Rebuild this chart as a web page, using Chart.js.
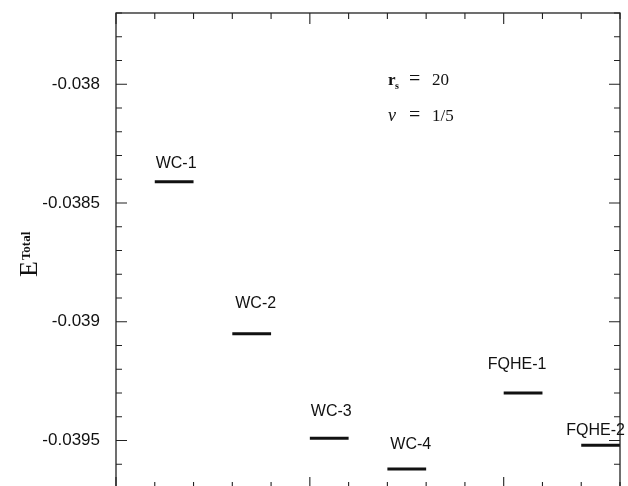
<!DOCTYPE html>
<html>
<head>
<meta charset="utf-8">
<script src="https://cdn.jsdelivr.net/npm/chart.js@4/dist/chart.umd.min.js"></script>
<style>
  html, body { margin: 0; padding: 0; background: #fff; overflow: hidden; }
  #wrap { position: relative; width: 628px; height: 490px; }
</style>
</head>
<body>
<div id="wrap"><canvas id="chart"></canvas></div>
<script>
// energy levels
const states = ['WC-1', 'WC-2', 'WC-3', 'WC-4', 'FQHE-1', 'FQHE-2'];
const statePos = [0.3, 0.7, 1.1, 1.5, 2.1, 2.5];
const energies = [-0.03841, -0.03905, -0.03949, -0.03962, -0.03930, -0.03952];
const yTicks = [-0.038, -0.0385, -0.039, -0.0395];
const yTickLabels = ['-0.038', '-0.0385', '-0.039', '-0.0395'];

const halfWidth = 0.1;
// label nudges in px (dx, dy above the level)
const labelShift = [[2, 18], [4, 30], [2, 27], [4, 24], [-6, 28], [-5, 15]];

const datasets = states.map((s, i) => ({
  label: s,
  data: [
    { x: statePos[i] - halfWidth, y: energies[i] },
    { x: statePos[i] + halfWidth, y: energies[i] }
  ],
  showLine: true,
  borderColor: '#111',
  borderWidth: 3,
  pointRadius: 0,
  borderCapStyle: 'butt'
}));

const framePlugin = {
  id: 'frame',
  afterDraw(chart) {
    const ctx = chart.ctx;
    const { left, right, top, bottom } = chart.chartArea;
    const xs = chart.scales.x, ys = chart.scales.y;
    ctx.save();
    ctx.strokeStyle = '#222';
    ctx.lineWidth = 1.3;
    ctx.strokeRect(left, top, right - left, bottom - top);

    // y ticks on both sides, pointing in
    ctx.lineWidth = 1.1;
    for (let k = -397; k <= -377; k++) {
      const y = ys.getPixelForValue(k / 10000);
      const len = k % 5 === 0 ? 11 : 6;
      ctx.beginPath();
      ctx.moveTo(left, y); ctx.lineTo(left + len, y);
      ctx.moveTo(right, y); ctx.lineTo(right - len, y);
      ctx.stroke();
    }
    // x ticks top and bottom
    for (let k = 0; k <= 13; k++) {
      const x = xs.getPixelForValue(k * 0.2);
      const len = k % 5 === 0 ? 11 : 6;
      ctx.beginPath();
      ctx.moveTo(x, top); ctx.lineTo(x, top + len);
      ctx.moveTo(x, bottom); ctx.lineTo(x, bottom - len);
      ctx.stroke();
    }

    // state labels
    ctx.fillStyle = '#111';
    ctx.font = '16px "Liberation Sans", Arial, sans-serif';
    ctx.textAlign = 'center';
    ctx.textBaseline = 'middle';
    states.forEach((s, i) => {
      const x = xs.getPixelForValue(statePos[i]) + labelShift[i][0];
      const y = ys.getPixelForValue(energies[i]) - labelShift[i][1];
      ctx.fillText(s, x, y);
    });

    // parameters
    ctx.textAlign = 'left';
    ctx.textBaseline = 'alphabetic';
    ctx.font = 'bold 17px "Liberation Serif", serif';
    ctx.fillText('r', 388, 85);
    ctx.font = 'bold 10px "Liberation Serif", serif';
    ctx.fillText('s', 395, 89);
    ctx.font = '20px "Liberation Serif", serif';
    ctx.fillText('=', 409, 85);
    ctx.fillText('=', 409, 121);
    ctx.font = '17px "Liberation Serif", serif';
    ctx.fillText('20', 432, 85);
    ctx.fillText('1/5', 432, 121);
    ctx.font = 'italic 18px "Liberation Serif", serif';
    ctx.fillText('\u03bd', 388, 121);

    // y title
    ctx.translate(37, 277);
    ctx.rotate(-Math.PI / 2);
    ctx.font = '26px "Liberation Serif", serif';
    ctx.fillText('E', 0, 0);
    const ew = ctx.measureText('E').width;
    ctx.font = 'bold 13px "Liberation Serif", serif';
    ctx.fillText('Total', ew + 1, -7);
    ctx.restore();
  }
};

new Chart(document.getElementById('chart'), {
  type: 'scatter',
  data: { datasets },
  options: {
    responsive: true,
    maintainAspectRatio: false,
    animation: false,
    layout: { padding: { left: 0, top: 13, right: 8, bottom: 2 } },
    plugins: { legend: { display: false }, tooltip: { enabled: false } },
    scales: {
      x: { type: 'linear', min: 0, max: 2.6, display: false },
      y: {
        min: -0.0397,
        max: -0.0377,
        grid: { display: false, drawTicks: false },
        border: { display: false },
        afterBuildTicks: (scale) => {
          scale.ticks = yTicks.map(v => ({ value: v }));
        },
        afterFit: (scale) => {
          scale.width = 116;
          scale.paddingTop = 0;
          scale.paddingBottom = 0;
        },
        ticks: {
          padding: 16,
          color: '#111',
          font: { family: '"Liberation Sans", Arial, sans-serif', size: 17 },
          callback: (v) => {
            const i = yTicks.findIndex(t => Math.abs(t - v) < 1e-9);
            return i >= 0 ? yTickLabels[i] : '';
          }
        }
      }
    }
  },
  plugins: [framePlugin]
});
</script>
</body>
</html>
